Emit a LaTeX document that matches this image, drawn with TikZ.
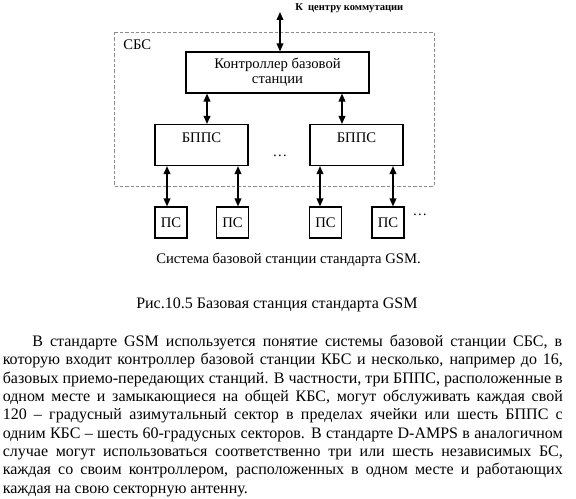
\documentclass[tikz,border=0pt]{standalone}
\usepackage{fontspec}
\setmainfont{Liberation Serif}
\usetikzlibrary{arrows.meta}

\begin{document}
\begin{tikzpicture}[x=0.75pt, y=-0.75pt,
  every node/.style={inner sep=0pt},
  box/.style={draw, line width=0.8pt, font=\fontsize{11}{11}\selectfont, align=center},
  bppsbox/.style={box, anchor=north, minimum width=69.75pt, text height=13.5pt, text depth=17.25pt},
  psbox/.style={box, minimum width=24pt, minimum height=23.25pt},
  dbl/.style={{Triangle[length=6pt,width=5pt]}-{Triangle[length=6pt,width=5pt]}, line width=1.1pt},
  frame/.style={draw=black!45, line width=0.7pt, dash pattern=on 2.5pt off 1.5pt},
  lbl/.style={font=\fontsize{11}{12}\selectfont, anchor=base west},
  txt/.style={font=\fontsize{12}{14}\selectfont, anchor=base west}]
\useasboundingbox (0,0) rectangle (576,499);
% SBS frame
\draw[frame] (114,32) rectangle (434,186);
\node[lbl] (sbs) at (123,49.3) {СБС};
% controller and link to the switching centre
\node[box, minimum width=137.25pt, minimum height=30.75pt] (kbs) at (277.5,72.5) {Контроллер базовой\\станции};
\coordinate (msc) at (280,12);
\node[anchor=base west, font=\fontsize{7.9}{8}\selectfont\bfseries] (msclbl) at (295,10.7) {К\ \ центру коммутации};
\draw[dbl] (msc) -- (kbs.north -| msc);
% transceiver stations
\node[bppsbox] (bppsA) at (201.5,124) {БППС};
\node[bppsbox] (bppsB) at (356.5,124) {БППС};
\node[font=\fontsize{11}{12}\selectfont, anchor=base] (dotsA) at (280,157) {\dots};
\draw[dbl] ([xshift=4.125pt]bppsA.north |- kbs.south) -- ([xshift=4.125pt]bppsA.north);
\draw[dbl] ([xshift=-10.875pt]bppsB.north |- kbs.south) -- ([xshift=-10.875pt]bppsB.north);
% mobile stations
\node[psbox] (psA) at (171,222.5) {ПС};
\node[psbox] (psB) at (232.5,222.5) {ПС};
\node[psbox] (psC) at (325.5,222.5) {ПС};
\node[psbox] (psD) at (388,222.5) {ПС};
\node[font=\fontsize{11}{12}\selectfont, anchor=base] (dotsB) at (420,216) {\dots};
\draw[dbl] ([xshift=-3pt]psA.north |- bppsA.south) -- ([xshift=-3pt]psA.north);
\draw[dbl] ([xshift=4.125pt]psB.north |- bppsA.south) -- ([xshift=4.125pt]psB.north);
\draw[dbl] ([xshift=-4.125pt]psC.north |- bppsB.south) -- ([xshift=-4.125pt]psC.north);
\draw[dbl] ([xshift=3.75pt]psD.north |- bppsB.south) -- ([xshift=3.75pt]psD.north);
% captions
\node[lbl] (cap) at (156,264) {Система базовой станции стандарта GSM.};
\node[txt] (fig) at (136,309) {Рис.10.5 Базовая станция стандарта GSM};
% paragraph, line by line
\node[txt] (l1) at (32,346.5) {\makebox[397.5pt][s]{В стандарте GSM используется понятие системы базовой станции СБС, в}};
\node[txt] (l2) at (2.5,364.8) {\makebox[420pt][s]{которую входит контроллер базовой станции КБС и несколько, например до 16,}};
\node[txt] (l3) at (2.5,383.2) {\makebox[420pt][s]{базовых приемо-передающих станций. В частности, три БППС, расположенные в}};
\node[txt] (l4) at (2.5,401.5) {\makebox[420pt][s]{одном месте и замыкающиеся на общей КБС, могут обслуживать каждая свой}};
\node[txt] (l5) at (2.5,419.8) {\makebox[420pt][s]{120 – градусный азимутальный сектор в пределах ячейки или шесть БППС с}};
\node[txt] (l6) at (2.5,438.2) {\makebox[420pt][s]{одним КБС – шесть 60-градусных секторов. В стандарте D-AMPS в аналогичном}};
\node[txt] (l7) at (2.5,456.5) {\makebox[420pt][s]{случае могут использоваться соответственно три или шесть независимых БС,}};
\node[txt] (l8) at (2.5,474.8) {\makebox[420pt][s]{каждая со своим контроллером, расположенных в одном месте и работающих}};
\node[txt] (l9) at (2.5,493.2) {каждая на свою секторную антенну.};
\end{tikzpicture}
\end{document}
